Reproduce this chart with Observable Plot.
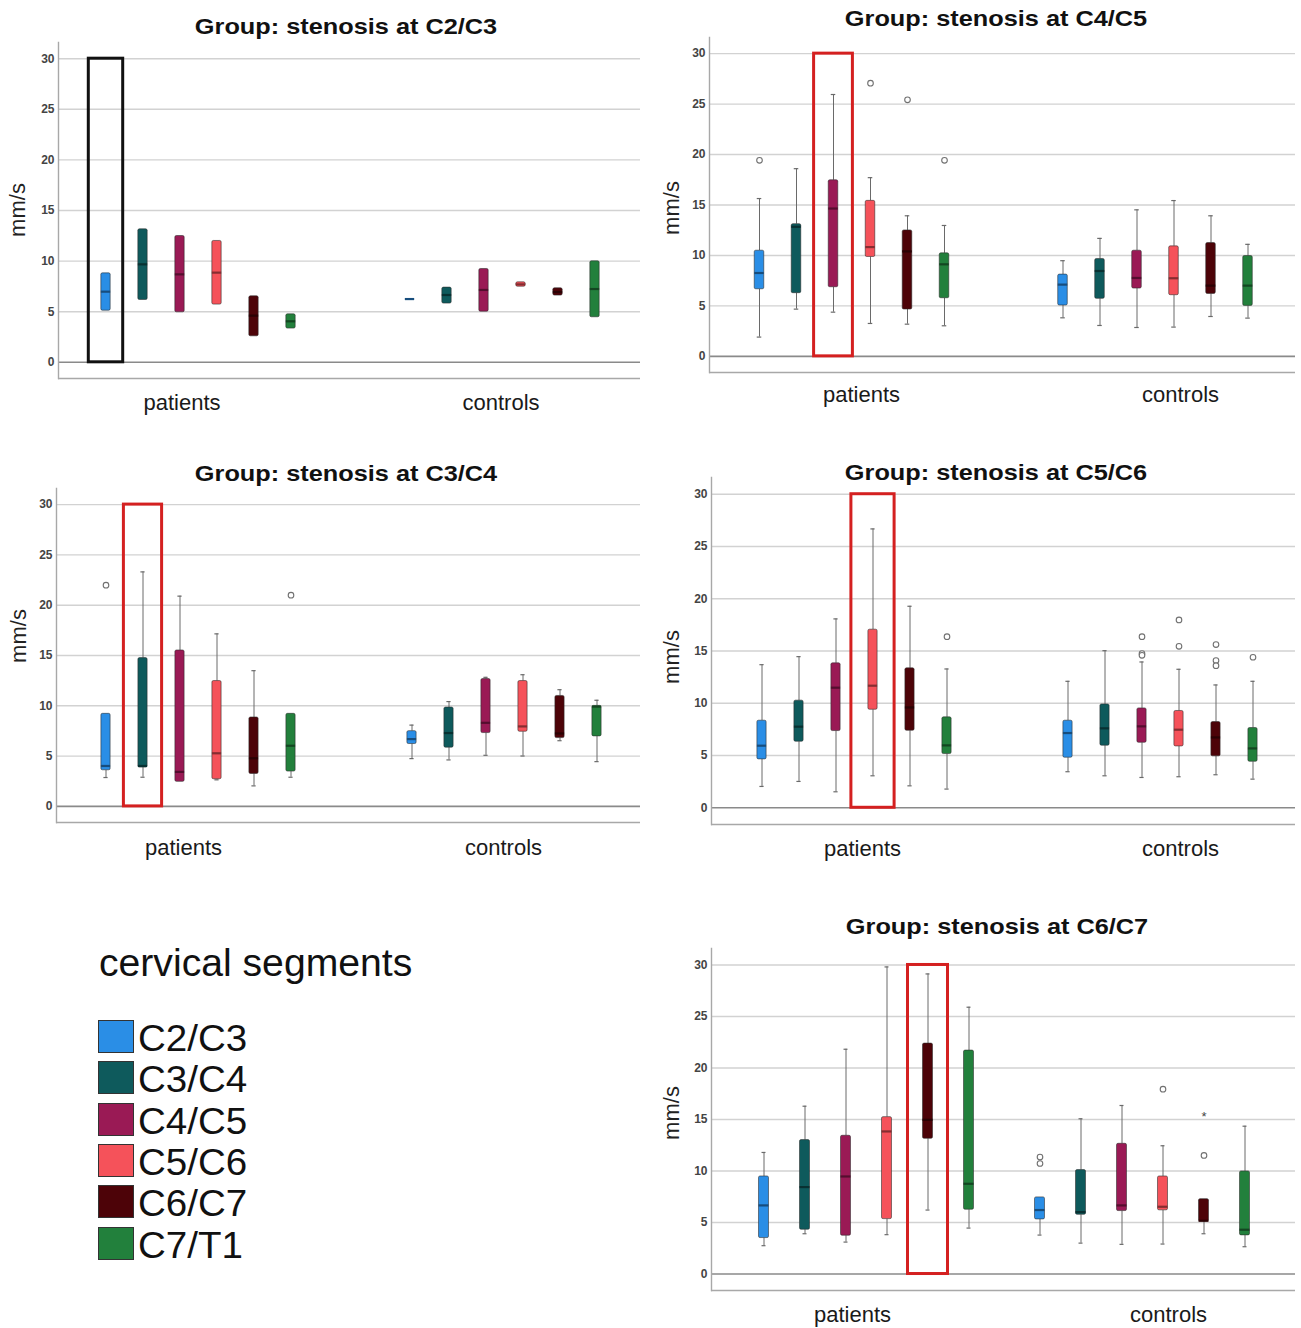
<!DOCTYPE html>
<html><head><meta charset="utf-8">
<script src="https://cdn.jsdelivr.net/npm/d3@7"></script>
<script src="https://cdn.jsdelivr.net/npm/@observablehq/plot@0.6"></script>
<style>
html,body{margin:0;padding:0;background:#fff;}
body{width:1301px;height:1328px;position:relative;overflow:hidden;font-family:"Liberation Sans",Arial,sans-serif;}
.panel{position:absolute;}
.title{position:absolute;font:bold 22px/26px "Liberation Sans",Arial,sans-serif;color:#111;white-space:nowrap;transform:translateX(-50%) scaleX(1.15);z-index:2;}
.ylab{position:absolute;font:22px/22px "Liberation Sans",Arial,sans-serif;color:#222;white-space:nowrap;transform:translate(-50%,-50%) rotate(-90deg);z-index:2;}
.leghead{position:absolute;left:99px;top:944px;font:38px/38px "Liberation Sans",Arial,sans-serif;color:#111;white-space:nowrap;transform-origin:0 0;transform:scaleX(1.03);}
.legrow{position:absolute;left:98px;height:40px;width:300px;}
.legrow .sw{position:absolute;left:0;top:0;width:34px;height:31px;border:1px solid #333;}
.legrow .lb{position:absolute;left:40px;top:1px;font:36px/36px "Liberation Sans",Arial,sans-serif;color:#111;white-space:nowrap;transform-origin:0 0;transform:scaleX(1.07);}
</style></head><body>
<script>
// ---------- categories ----------
const segments = ["C2/C3", "C3/C4", "C4/C5", "C5/C6", "C6/C7", "C7/T1"];
const groups = ["patients", "controls"];
const segmentColors = ["#2a8ee6", "#0e5a5c", "#9a1a55", "#f5525a", "#4d0308", "#22803c"];
const yTicks = [0, 5, 10, 15, 20, 25, 30];
const yLabel = "mm/s";
const legendTitle = "cervical segments";
// each array: 6 patients values (C2/C3..C7/T1) then 6 controls values

// ---------- Group: stenosis at C2/C3 (boxes only) ----------
const c23Q1  = [5.10, 6.16, 4.94, 5.70, 2.57, 3.33, 6.25, 5.80, 5.00, 7.47, 6.59, 4.45];
const c23Med = [6.98, 9.68, 8.69, 8.86, 4.61, 4.05, 6.25, 6.65, 7.15, 7.70, 6.95, 7.24];
const c23Q3  = [8.79, 13.14, 12.48, 11.99, 6.52, 4.74, 6.25, 7.38, 9.22, 7.90, 7.31, 9.98];
const c23Low = [null, null, null, null, null, null, null, null, null, null, null, null];
const c23High = [null, null, null, null, null, null, null, null, null, null, null, null];
const c23Outliers = [];
const c23Extremes = [];

// ---------- Group: stenosis at C4/C5 ----------
const c45Low  = [1.91, 4.68, 4.38, 3.26, 3.19, 3.03, 3.82, 3.06, 2.86, 2.90, 3.95, 3.79];
const c45Q1   = [6.65, 6.26, 6.85, 9.85, 4.64, 5.76, 5.04, 5.70, 6.72, 6.06, 6.19, 5.00];
const c45Med  = [8.26, 12.84, 14.65, 10.83, 10.40, 9.12, 7.11, 8.46, 7.77, 7.74, 7.01, 7.01];
const c45Q3   = [10.47, 13.10, 17.45, 15.41, 12.48, 10.21, 8.10, 9.65, 10.47, 10.90, 11.23, 9.94];
const c45High = [15.64, 18.60, 25.95, 17.71, 13.93, 12.97, 9.48, 11.69, 14.52, 15.44, 13.93, 11.10];
const c45Outliers = [["patients", "C2/C3", 19.43], ["patients", "C5/C6", 27.07], ["patients", "C6/C7", 25.42], ["patients", "C7/T1", 19.43]];
const c45Extremes = [];

// ---------- Group: stenosis at C3/C4 ----------
const c34Low  = [2.87, 2.90, 2.44, 2.64, 2.04, 2.90, 4.75, 4.62, 5.08, 5.01, 6.53, 4.45];
const c34Q1   = [3.59, 3.86, 2.44, 2.70, 3.23, 3.46, 6.20, 5.84, 7.29, 7.42, 6.79, 6.96];
const c34Med  = [4.02, 4.02, 3.43, 5.28, 4.78, 6.03, 6.69, 7.29, 8.31, 7.95, 7.25, 9.92];
const c34Q3   = [9.20, 14.74, 15.50, 12.46, 8.84, 9.20, 7.48, 9.83, 12.66, 12.46, 10.98, 9.99];
const c34High = [9.20, 23.31, 20.90, 17.15, 13.49, 9.20, 8.08, 10.42, 12.83, 13.09, 11.60, 10.55];
const c34Outliers = [["patients", "C2/C3", 21.99], ["patients", "C7/T1", 21.00]];
const c34Extremes = [];

// ---------- Group: stenosis at C5/C6 ----------
const c56Low  = [2.04, 2.52, 1.53, 3.06, 2.10, 1.79, 3.45, 3.06, 2.90, 2.97, 3.16, 2.74];
const c56Q1   = [4.63, 6.32, 7.34, 9.38, 7.37, 5.14, 4.79, 5.94, 6.22, 5.87, 4.92, 4.40];
const c56Med  = [5.94, 7.76, 11.49, 11.68, 9.60, 5.97, 7.15, 7.60, 7.79, 7.47, 6.73, 5.68];
const c56Q3   = [8.33, 10.25, 13.82, 17.04, 13.34, 8.65, 8.33, 9.89, 9.51, 9.26, 8.20, 7.63];
const c56High = [13.69, 14.46, 18.07, 26.68, 19.28, 13.28, 12.10, 15.03, 13.95, 13.25, 11.75, 12.10];
const c56Outliers = [["patients", "C7/T1", 16.37],
  ["controls", "C4/C5", 16.37], ["controls", "C4/C5", 14.75], ["controls", "C4/C5", 14.59],
  ["controls", "C5/C6", 17.97], ["controls", "C5/C6", 15.45],
  ["controls", "C6/C7", 15.61], ["controls", "C6/C7", 14.08], ["controls", "C6/C7", 13.60],
  ["controls", "C7/T1", 14.40]];
const c56Extremes = [];

// ---------- Group: stenosis at C6/C7 ----------
const c67Low  = [2.75, 3.91, 3.10, 3.82, 6.21, 4.46, 3.78, 3.00, 2.88, 2.91, 3.91, 2.65];
const c67Q1   = [3.49, 4.30, 3.72, 5.33, 13.13, 6.24, 5.30, 5.75, 6.11, 6.18, 5.11, 3.75];
const c67Med  = [6.66, 8.44, 9.47, 13.84, 14.97, 8.76, 6.21, 6.01, 6.66, 6.53, 5.17, 4.30];
const c67Q3   = [9.47, 13.00, 13.42, 15.23, 22.37, 21.69, 7.44, 10.09, 12.64, 9.47, 7.27, 9.96];
const c67High = [11.80, 16.29, 21.82, 29.81, 29.13, 25.90, 7.44, 15.07, 16.36, 12.45, 7.27, 14.35];
const c67Outliers = [["controls", "C2/C3", 11.35], ["controls", "C2/C3", 10.73], ["controls", "C5/C6", 17.94], ["controls", "C6/C7", 11.51]];
const c67Extremes = [["controls", "C6/C7", 15.58]];

// highlighted box per panel
const highlights = {
  c23: ["patients", "C2/C3"], c45: ["patients", "C4/C5"], c34: ["patients", "C3/C4"],
  c56: ["patients", "C5/C6"], c67: ["patients", "C6/C7"]
};

// ---------- layout (positions/styles only) ----------
const panels = [
  {id: "c23", title: "Group: stenosis at C2/C3", data: [c23Low, c23Q1, c23Med, c23Q3, c23High, c23Outliers, c23Extremes],
   left: 0, top: 35, width: 650, mL: 57, mR: 10, plotTop: 42, plotBottom: 378, padOuter: 0.87, boxW: 10,
   dxP: -6, dxC: 7, lblP: -22, lblC: 6, lblDy: 31, titleX: 346, titleY: 27, ylabX: 18, ylabY: 210, hlColor: "#111", hlInset: 1.3},
  {id: "c45", title: "Group: stenosis at C4/C5", data: [c45Low, c45Q1, c45Med, c45Q3, c45High, c45Outliers, c45Extremes],
   left: 650, top: 30, width: 651, mL: 59, mR: 6, plotTop: 37, plotBottom: 372, padOuter: 0.91, boxW: 10,
   dxP: -4.5, dxC: 6, lblP: 5.5, lblC: 31.5, lblDy: 29, titleX: 996, titleY: 19, ylabX: 672, ylabY: 208, hlColor: "#d42020", hlInset: -0.9},
  {id: "c34", title: "Group: stenosis at C3/C4", data: [c34Low, c34Q1, c34Med, c34Q3, c34High, c34Outliers, c34Extremes],
   left: 0, top: 481, width: 650, mL: 55, mR: 10, plotTop: 488, plotBottom: 822, padOuter: 0.87, boxW: 10,
   dxP: -4, dxC: 10, lblP: -19, lblC: 9, lblDy: 32, titleX: 346, titleY: 474, ylabX: 19, ylabY: 636, hlColor: "#d42020", hlInset: -0.6},
  {id: "c56", title: "Group: stenosis at C5/C6", data: [c56Low, c56Q1, c56Med, c56Q3, c56High, c56Outliers, c56Extremes],
   left: 650, top: 470, width: 651, mL: 60, mR: 6, plotTop: 477, plotBottom: 824, padOuter: 0.87, boxW: 10,
   dxP: -3, dxC: 11, lblP: 5, lblC: 31, lblDy: 31, titleX: 996, titleY: 473, ylabX: 672, ylabY: 657, hlColor: "#d42020", hlInset: -3.1},
  {id: "c67", title: "Group: stenosis at C6/C7", data: [c67Low, c67Q1, c67Med, c67Q3, c67High, c67Outliers, c67Extremes],
   left: 650, top: 941, width: 651, mL: 60, mR: 6, plotTop: 948, plotBottom: 1290, padOuter: 0.48, boxW: 11,
   dxP: 9, dxC: -7, lblP: -5, lblC: 19, lblDy: 31, titleX: 997, titleY: 927, ylabX: 672, ylabY: 1113, hlColor: "#d42020", hlInset: 0.5}
];

const yDomain = [-1.6, 31.6];
const FONT = "'Liberation Sans', Arial, sans-serif";

function buildPanel(p) {
  const [low, q1, med, q3, high, outliers, extremes] = p.data;
  const rows = d3.range(12).map(k => ({
    group: groups[Math.floor(k / 6)], segment: segments[k % 6],
    low: low[k], q1: q1[k], median: med[k], q3: q3[k], high: high[k]
  }));
  const outRows = outliers.map(([group, segment, value]) => ({group, segment, value}));
  const extRows = extremes.map(([group, segment, value]) => ({group, segment, value}));
  const hl = [{group: highlights[p.id][0], segment: highlights[p.id][1]}];

  const plotW = p.width - p.mL - p.mR;
  const step = (plotW / 2) / (6 + 2 * p.padOuter);
  const boxInset = (step - p.boxW) / 2;
  const capInset = (step - 5) / 2;
  const medColor = c => d3.color(c).darker(1.7).formatHex();
  const colorOf = s => segmentColors[segments.indexOf(s)];
  const H = {insetLeft: boxInset, insetRight: boxInset};

  function boxMarks(gname, dx, lbl) {
    const r = rows.filter(d => d.group === gname);
    const rw = r.filter(d => d.low != null);
    const o = outRows.filter(d => d.group === gname);
    const e = extRows.filter(d => d.group === gname);
    const h = hl.filter(d => d.group === gname);
    return [
      Plot.ruleX(rw.filter(d => d.low < d.q1), {x: "segment", fx: "group", y1: "low", y2: "q1", stroke: "#6a6a6a", strokeWidth: 1, dx}),
      Plot.ruleX(rw.filter(d => d.high > d.q3), {x: "segment", fx: "group", y1: "q3", y2: "high", stroke: "#6a6a6a", strokeWidth: 1, dx}),
      Plot.tickY(rw.filter(d => d.low < d.q1), {x: "segment", fx: "group", y: "low", stroke: "#6a6a6a", strokeWidth: 1.2, insetLeft: capInset, insetRight: capInset, dx}),
      Plot.tickY(rw.filter(d => d.high > d.q3), {x: "segment", fx: "group", y: "high", stroke: "#6a6a6a", strokeWidth: 1.2, insetLeft: capInset, insetRight: capInset, dx}),
      Plot.barY(r, {x: "segment", fx: "group", y1: "q1", y2: "q3", fill: "segment", stroke: "#2a2a2a", strokeWidth: 0.7, strokeOpacity: 0.8, ...H, rx: 1.5, dx}),
      Plot.tickY(r, {x: "segment", fx: "group", y: "median", stroke: d => medColor(colorOf(d.segment)), strokeWidth: 2.2, ...H, dx}),
      Plot.dot(o, {x: "segment", fx: "group", y: "value", r: 2.8, stroke: "#707070", strokeWidth: 1.1, fill: "white", dx}),
      Plot.text(e, {x: "segment", fx: "group", y: "value", text: () => "*", fontSize: 13, fill: "#444", dy: 3, dx}),
      Plot.barY(h, {x: "segment", fx: "group", y1: () => yTicks[0], y2: () => yTicks[yTicks.length - 1], fill: "none", stroke: p.hlColor, strokeWidth: 3, insetLeft: p.hlInset, insetRight: p.hlInset, dx}),
      Plot.text([gname], {fx: d => d, text: d => d, frameAnchor: "bottom", dy: p.lblDy, dx: lbl, fontSize: 22, fill: "#1a1a1a"})
    ];
  }

  const chart = Plot.plot({
    width: p.width,
    height: (p.plotTop - p.top) + (p.plotBottom - p.plotTop) + 50,
    marginLeft: p.mL, marginRight: p.mR,
    marginTop: p.plotTop - p.top, marginBottom: 50,
    style: {background: "transparent", fontFamily: FONT, overflow: "visible"},
    fx: {domain: groups, paddingInner: 0, paddingOuter: 0, axis: null},
    x: {domain: segments, paddingInner: 0, paddingOuter: p.padOuter, axis: null},
    y: {domain: yDomain, axis: null},
    color: {domain: segments, range: segmentColors},
    marks: [
      Plot.ruleY(yTicks.filter(t => t !== 0), {stroke: "#d2d2d2", strokeWidth: 1.4}),
      Plot.ruleY([0], {stroke: "#8a8a8a", strokeWidth: 1.6}),
      Plot.ruleY([yDomain[0]], {stroke: "#a8a8a8", strokeWidth: 1.4}),
      Plot.frame({anchor: "left", facetAnchor: "left", stroke: "#a8a8a8", strokeWidth: 1.4}),
      Plot.axisY(yTicks, {anchor: "left", tickSize: 0, tickPadding: 4, fontSize: 12, fontWeight: "bold", fill: "#444", label: null}),
      ...boxMarks("patients", p.dxP, p.lblP),
      ...boxMarks("controls", p.dxC, p.lblC)
    ]
  });

  const wrap = document.createElement("div");
  wrap.className = "panel";
  wrap.style.left = p.left + "px";
  wrap.style.top = p.top + "px";
  wrap.appendChild(chart);
  document.body.appendChild(wrap);

  const t = document.createElement("div");
  t.className = "title";
  t.textContent = p.title;
  t.style.left = p.titleX + "px";
  t.style.top = (p.titleY - 13) + "px";
  document.body.appendChild(t);

  const yl = document.createElement("div");
  yl.className = "ylab";
  yl.textContent = yLabel;
  yl.style.left = p.ylabX + "px";
  yl.style.top = p.ylabY + "px";
  document.body.appendChild(yl);
}

panels.forEach(buildPanel);

// ---------- legend ----------
const head = document.createElement("div");
head.className = "leghead";
head.textContent = legendTitle;
document.body.appendChild(head);
segments.forEach((s, i) => {
  const row = document.createElement("div");
  row.className = "legrow";
  row.style.top = (1020 + i * 41.3) + "px";
  const sw = document.createElement("div");
  sw.className = "sw";
  sw.style.background = segmentColors[i];
  const lb = document.createElement("div");
  lb.className = "lb";
  lb.textContent = s;
  row.appendChild(sw); row.appendChild(lb);
  document.body.appendChild(row);
});
</script>
</body></html>
